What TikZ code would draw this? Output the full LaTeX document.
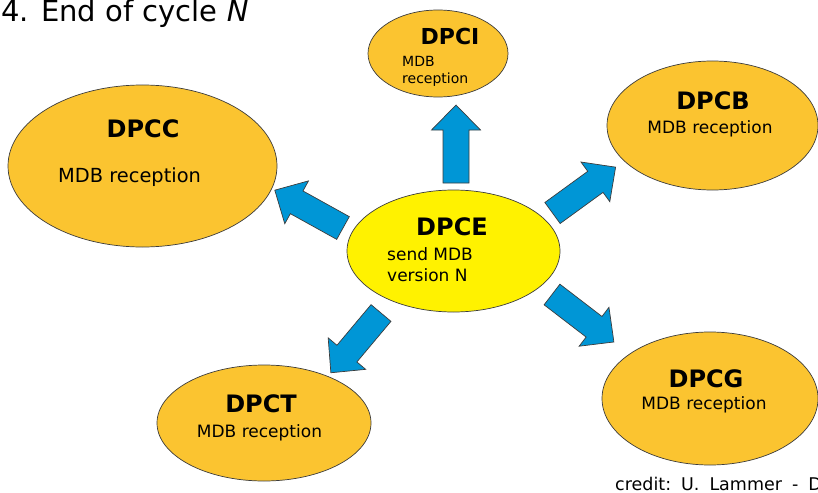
\documentclass[tikz,border=0pt]{standalone}
\usepackage{fontspec}
\setmainfont{DejaVu Sans}
\usetikzlibrary{shapes.geometric}
\definecolor{gold}{RGB}{251,196,48}
\definecolor{flowblue}{RGB}{0,150,214}
\definecolor{rim}{RGB}{60,60,60}
\begin{document}
\begin{tikzpicture}[x=1pt,y=-1pt,
  station/.style={ellipse, draw=rim, line width=0.7pt, fill=gold, inner sep=0pt},
  centre/.style={station, fill=yellow},
  label/.style={inner sep=0pt, font=\bfseries\fontsize{24}{28}\selectfont, anchor=base},
  task/.style={inner sep=0pt, font=\fontsize{17}{20}\selectfont},
  flow/.style={draw=rim, line width=0.7pt, fill=flowblue, line join=miter},
  blockarrow/.pic={\draw[flow] (0,-13) -- (53,-13) -- (53,-24.5) -- (78,0)
                   -- (53,24.5) -- (53,13) -- (0,13) -- cycle;}]
\useasboundingbox (0,0) rectangle (818,492);
\clip (0,0) rectangle (818,492);

% title
\node[inner sep=0pt, anchor=base west, font=\fontsize{29}{34}\selectfont] (title)
  at (1,22) {4. End of cycle \textit{N}};

% stations
\node[station, minimum width=269pt, minimum height=162pt] (dpcc) at (142.5,166) {};
\node[station, minimum width=140pt, minimum height=87pt]  (dpci) at (438,53.5) {};
\node[station, minimum width=211pt, minimum height=129pt] (dpcb) at (712.5,125.5) {};
\node[station, minimum width=214pt, minimum height=116pt] (dpct) at (264,423) {};
\node[station, minimum width=216pt, minimum height=133pt] (dpcg) at (710,398.5) {};
\node[centre,  minimum width=213pt, minimum height=122pt] (dpce) at (453.5,251) {};

% station texts
\node[label] (lc) at (143,137) {DPCC};
\node[task, anchor=base west, font=\fontsize{19.4}{23}\selectfont] (tc) at (58,182) {MDB reception};

\node[label, font=\bfseries\fontsize{22}{26}\selectfont] (li) at (450,45) {DPCI};
\node[task, anchor=base west, font=\fontsize{14}{17}\selectfont] (ti1) at (402,67) {MDB};
\node[task, anchor=base west, font=\fontsize{14}{17}\selectfont] (ti2) at (402,84) {reception};

\node[label] (lb) at (713,110) {DPCB};
\node[task, anchor=base] (tb) at (710,133) {MDB reception};

\node[label] (le) at (452,235) {DPCE};
\node[task, anchor=base west] (te1) at (387,260) {send MDB};
\node[task, anchor=base west] (te2) at (387,281) {version N};

\node[label] (lt) at (261,412) {DPCT};
\node[task, anchor=base] (tt) at (259.5,437) {MDB reception};

\node[label] (lg) at (706,387) {DPCG};
\node[task, anchor=base] (tg) at (704,409) {MDB reception};

% distribution arrows
\pic[rotate=90]    (aup) at (456,183)     {blockarrow};
\pic[rotate=151]   (acc) at (343,228)     {blockarrow};
\pic[rotate=36]    (acb) at (552.5,213)   {blockarrow};
\pic[rotate=-37.5] (acg) at (552,294.5)   {blockarrow};
\pic[rotate=-130]  (act) at (381,313)     {blockarrow};

% credit line
\node[inner sep=0pt, anchor=base west, font=\fontsize{17.5}{21}\selectfont] (credit)
  at (615,490) {\spaceskip=10pt\xspaceskip=10pt credit: U. Lammer - D};
\end{tikzpicture}
\end{document}
